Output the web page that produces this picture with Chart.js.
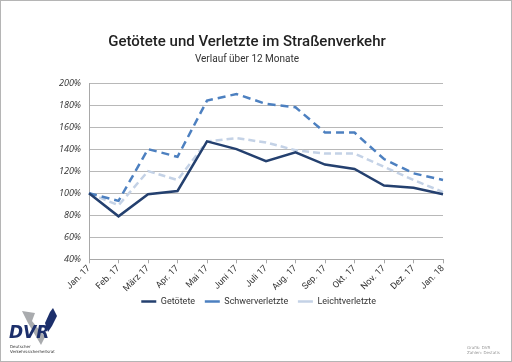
<!DOCTYPE html>
<html>
<head>
<meta charset="utf-8">
<script src="https://cdn.jsdelivr.net/npm/chart.js@4"></script>
<style>
  html, body { margin: 0; padding: 0; background: #fff; }
  #wrap { width: 512px; height: 362px; box-sizing: border-box; border: 1px solid #b5b5b5; position: relative; }
  canvas { display: block; }
</style>
</head>
<body>
<div id="wrap"><canvas id="chart" width="510" height="360"></canvas></div>
<script>
const months = ["Jan. 17", "Feb. 17", "März 17", "Apr. 17", "Mai 17", "Juni 17", "Juli 17",
  "Aug. 17", "Sep. 17", "Okt. 17", "Nov. 17", "Dez. 17", "Jan. 18"];
const getoetete = [100, 79, 99, 102, 147, 140, 129, 137, 126, 122, 107, 105, 99];
const schwerverletzte = [100, 93, 140, 133, 184, 190, 181, 178, 155, 155, 131, 118, 112];
const leichtverletzte = [100, 89, 120, 112, 147, 150, 146, 139, 136, 136, 124, 112, 101];

const fontMain = "Roboto, 'DejaVu Sans', sans-serif";

// legend sits a bit right of the plot centre in the original
const legendShift = {
  id: "legendShift",
  afterUpdate(chart) {
    const lg = chart.legend;
    lg.left += 15;
    lg.right += 15;
    lg.adjustHitBoxes();
  }
};

// logo and source note, drawn after the chart
const decor = {
  id: "decor",
  afterDraw(chart) {
    const ctx = chart.ctx;
    ctx.save();
    // grey arrow
    ctx.fillStyle = "#a9abae";
    ctx.beginPath();
    ctx.moveTo(21, 310); ctx.lineTo(34, 312); ctx.lineTo(31, 320);
    ctx.lineTo(44, 336); ctx.lineTo(40, 344); ctx.lineTo(27, 322);
    ctx.closePath();
    ctx.fill();
    // navy arrow
    ctx.fillStyle = "#1c2f6b";
    ctx.beginPath();
    ctx.moveTo(44, 322); ctx.lineTo(49, 311); ctx.lineTo(52, 307);
    ctx.lineTo(56, 315); ctx.lineTo(51, 325); ctx.lineTo(47, 331);
    ctx.closePath();
    ctx.fill();
    ctx.font = "italic bold 17px 'DejaVu Sans', sans-serif";
    ctx.fillStyle = "#1c2f6b";
    ctx.textBaseline = "alphabetic";
    ctx.fillText("DVR", 8, 337);
    ctx.font = "4px 'DejaVu Sans', sans-serif";
    ctx.fillStyle = "#333";
    ctx.fillText("Deutscher", 9, 347);
    ctx.fillText("Verkehrssicherheitsrat", 9, 352);
    ctx.fillStyle = "#999";
    ctx.fillText("Grafik: DVR", 466, 348);
    ctx.fillText("Zahlen: Destatis", 466, 353);
    ctx.restore();
  }
};

new Chart(document.getElementById("chart"), {
  type: "line",
  data: {
    labels: months,
    datasets: [
      {
        label: "Getötete",
        data: getoetete,
        borderColor: "#24406f",
        backgroundColor: "#24406f",
        borderWidth: 2.5,
        pointRadius: 0,
        tension: 0
      },
      {
        label: "Schwerverletzte",
        data: schwerverletzte,
        borderColor: "#4d80c0",
        backgroundColor: "#4d80c0",
        borderWidth: 2.5,
        borderDash: [8, 5],
        pointRadius: 0,
        tension: 0
      },
      {
        label: "Leichtverletzte",
        data: leichtverletzte,
        borderColor: "#c4d2e6",
        backgroundColor: "#c4d2e6",
        borderWidth: 2.5,
        borderDash: [7, 4],
        pointRadius: 0,
        tension: 0
      }
    ]
  },
  options: {
    responsive: false,
    animation: false,
    layout: { padding: { left: 50, right: 68, top: 24, bottom: 45 } },
    plugins: {
      title: {
        display: true,
        text: "Getötete und Verletzte im Straßenverkehr",
        color: "#222",
        font: { family: fontMain, size: 15, weight: "500" },
        padding: { top: 8, bottom: 2 }
      },
      subtitle: {
        display: true,
        text: "Verlauf über 12 Monate",
        color: "#333",
        font: { family: fontMain, size: 10 },
        padding: { bottom: 18 }
      },
      legend: {
        position: "bottom",
        labels: {
          usePointStyle: true,
          pointStyle: "line",
          pointStyleWidth: 15,
          boxWidth: 15,
          padding: 3,
          color: "#333",
          font: { family: fontMain, size: 9 },
          generateLabels(chart) {
            const items = Chart.defaults.plugins.legend.labels.generateLabels(chart);
            items.forEach(it => { it.text = it.text + "   "; });
            return items;
          }
        }
      },
      tooltip: { enabled: false }
    },
    scales: {
      x: {
        grid: { drawOnChartArea: false, color: "#a8a8a8", tickLength: 4 },
        border: { color: "#a8a8a8" },
        ticks: {
          maxRotation: 45,
          minRotation: 45,
          autoSkip: false,
          color: "#333",
          font: { family: fontMain, size: 9 },
          padding: 0
        }
      },
      y: {
        min: 40,
        max: 200,
        grid: { color: "#b8b8b8", drawTicks: false },
        border: { color: "#a8a8a8" },
        ticks: {
          stepSize: 20,
          padding: 8,
          color: "#333",
          font: { family: "'Open Sans', sans-serif", size: 9, style: "italic" },
          callback: v => v + "%"
        }
      }
    }
  },
  plugins: [legendShift, decor]
});
</script>
</body>
</html>
